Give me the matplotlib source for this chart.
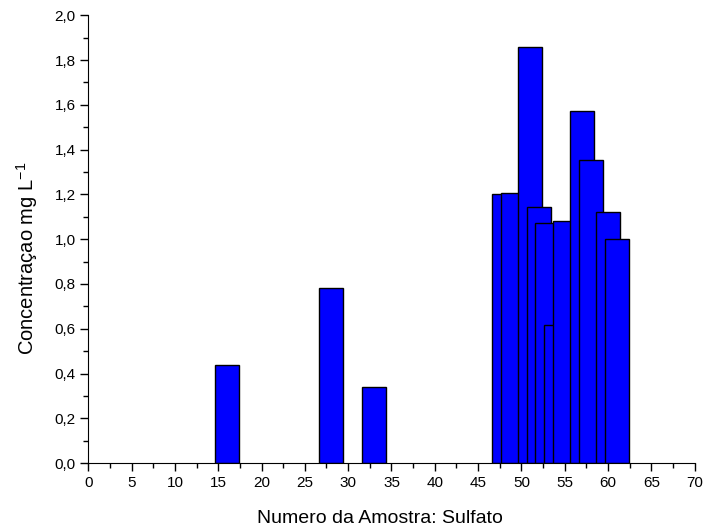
import numpy as np
import matplotlib
matplotlib.use("Agg")
import matplotlib.pyplot as plt
from matplotlib.ticker import MultipleLocator, FuncFormatter

plt.rcParams['font.family'] = ['Liberation Sans', 'DejaVu Sans']
plt.rcParams['mathtext.fontset'] = 'custom'
plt.rcParams['mathtext.rm'] = 'Liberation Sans'
plt.rcParams['mathtext.it'] = 'Liberation Sans:italic'

# sample numbers and sulfate concentration (mg/L)
amostra = [16, 28, 33, 48, 49, 51, 52, 53, 54, 55, 57, 58, 60, 61]
conc = [0.44, 0.783, 0.338, 1.202, 1.207, 1.858, 1.143, 1.071, 0.615,
        1.083, 1.572, 1.354, 1.123, 1.002]

fig = plt.figure(figsize=(7.06, 5.28), dpi=100)
ax = fig.add_axes([0.125, 0.123, 0.859, 0.848])

ax.bar(amostra, conc, width=2.8, color='#0000ff', edgecolor='black', linewidth=1.0)

ax.set_xlim(0, 70)
ax.set_ylim(0, 2.0)
ax.spines['top'].set_visible(False)
ax.spines['right'].set_visible(False)
ax.xaxis.set_major_locator(MultipleLocator(5))
ax.xaxis.set_minor_locator(MultipleLocator(2.5))
ax.yaxis.set_major_locator(MultipleLocator(0.2))
ax.yaxis.set_minor_locator(MultipleLocator(0.1))
ax.yaxis.set_major_formatter(FuncFormatter(lambda v, p: f"{v:.1f}".replace('.', ',')))
ax.tick_params(which='major', length=6, width=1, labelsize=11, pad=3)
ax.tick_params(which='minor', length=3.5, width=1)

ax.set_xlabel("Numero da Amostra: Sulfato", fontsize=14)
ax.set_ylabel(r"Concentraçao mg L$^{\mathrm{-1}}$", fontsize=14.5)
ax.xaxis.set_label_coords(0.4816, -0.104)
ax.yaxis.set_label_coords(-0.080, 0.457)

fig.savefig("out.png", dpi=100)
